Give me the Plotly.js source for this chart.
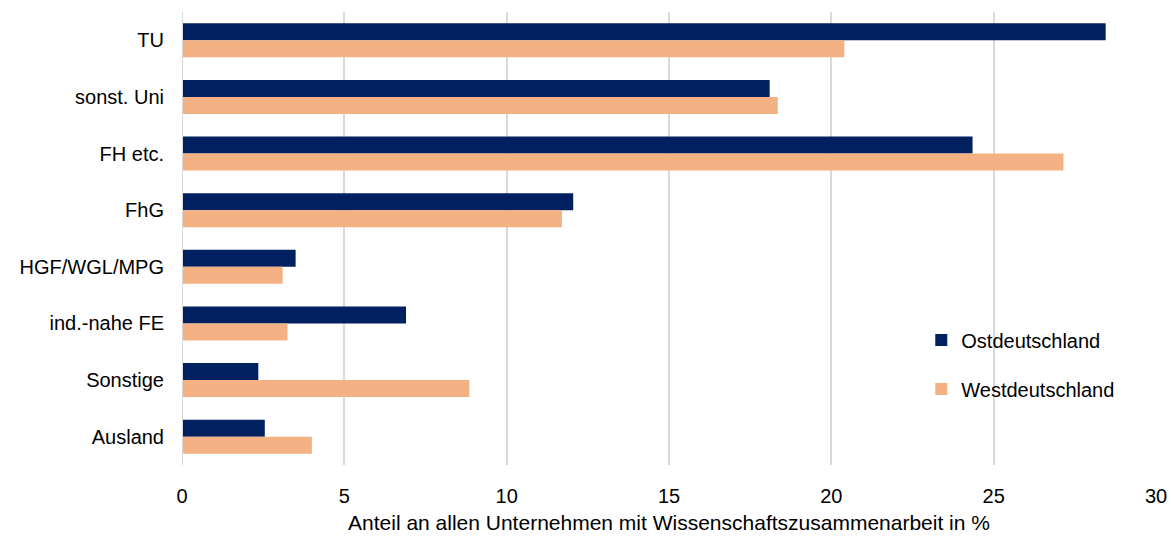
<!DOCTYPE html>
<html><head><meta charset="utf-8">
<script src="https://cdn.plot.ly/plotly-3.0.1.min.js"></script>
<style>body{margin:0;padding:0;background:#fff}#chart{width:1171px;height:539px}</style>
</head><body><div id="chart"></div>
<script>
const categories = ["TU","sonst. Uni","FH etc.","FhG","HGF/WGL/MPG","ind.-nahe FE","Sonstige","Ausland"];
const ost = [28.45, 18.1, 24.35, 12.05, 3.5, 6.9, 2.35, 2.55];
const west = [20.4, 18.35, 27.15, 11.7, 3.1, 3.25, 8.85, 4.0];
const xTicks = [0,5,10,15,20,25,30];

const traces = [
  {type:'bar', orientation:'h', name:'Ostdeutschland', y:categories, x:ost,
   marker:{color:'#002060'}, legendgroup:'o'},
  {type:'bar', orientation:'h', name:'Westdeutschland', y:categories, x:west,
   marker:{color:'#F4B183'}, legendgroup:'w'}
];
const layout = {
  width:1171, height:539,
  margin:{l:182, r:15, t:12, b:74},
  barmode:'group', bargap:0.4, bargroupgap:0,
  font:{family:'"Liberation Sans", Arial, sans-serif', size:20, color:'#000'},
  plot_bgcolor:'#fff', paper_bgcolor:'#fff',
  xaxis:{range:[0,30], tickvals:xTicks, showgrid:true, gridcolor:'#d9d9d9', gridwidth:2,
    zeroline:false, showline:false, ticks:'', tickfont:{size:20}, ticklabelstandoff:17,
    title:{text:'Anteil an allen Unternehmen mit Wissenschaftszusammenarbeit in %', font:{size:21}, standoff:9}},
  yaxis:{autorange:'reversed', ticks:'', showgrid:false, showline:false, zeroline:false,
    tickfont:{size:20}, ticklabelstandoff:17},
  shapes:[{type:'line', xref:'x', yref:'paper', x0:0, x1:0, y0:0, y1:1, line:{color:'#d9d9d9', width:2}}],
  legend:{x:0.759, y:0.222, xanchor:'left', yanchor:'middle', traceorder:'grouped', tracegroupgap:20,
    font:{size:20}, bgcolor:'rgba(0,0,0,0)', itemwidth:30},
  showlegend:true
};
Plotly.newPlot('chart', traces, layout, {displayModeBar:false});
</script></body></html>
